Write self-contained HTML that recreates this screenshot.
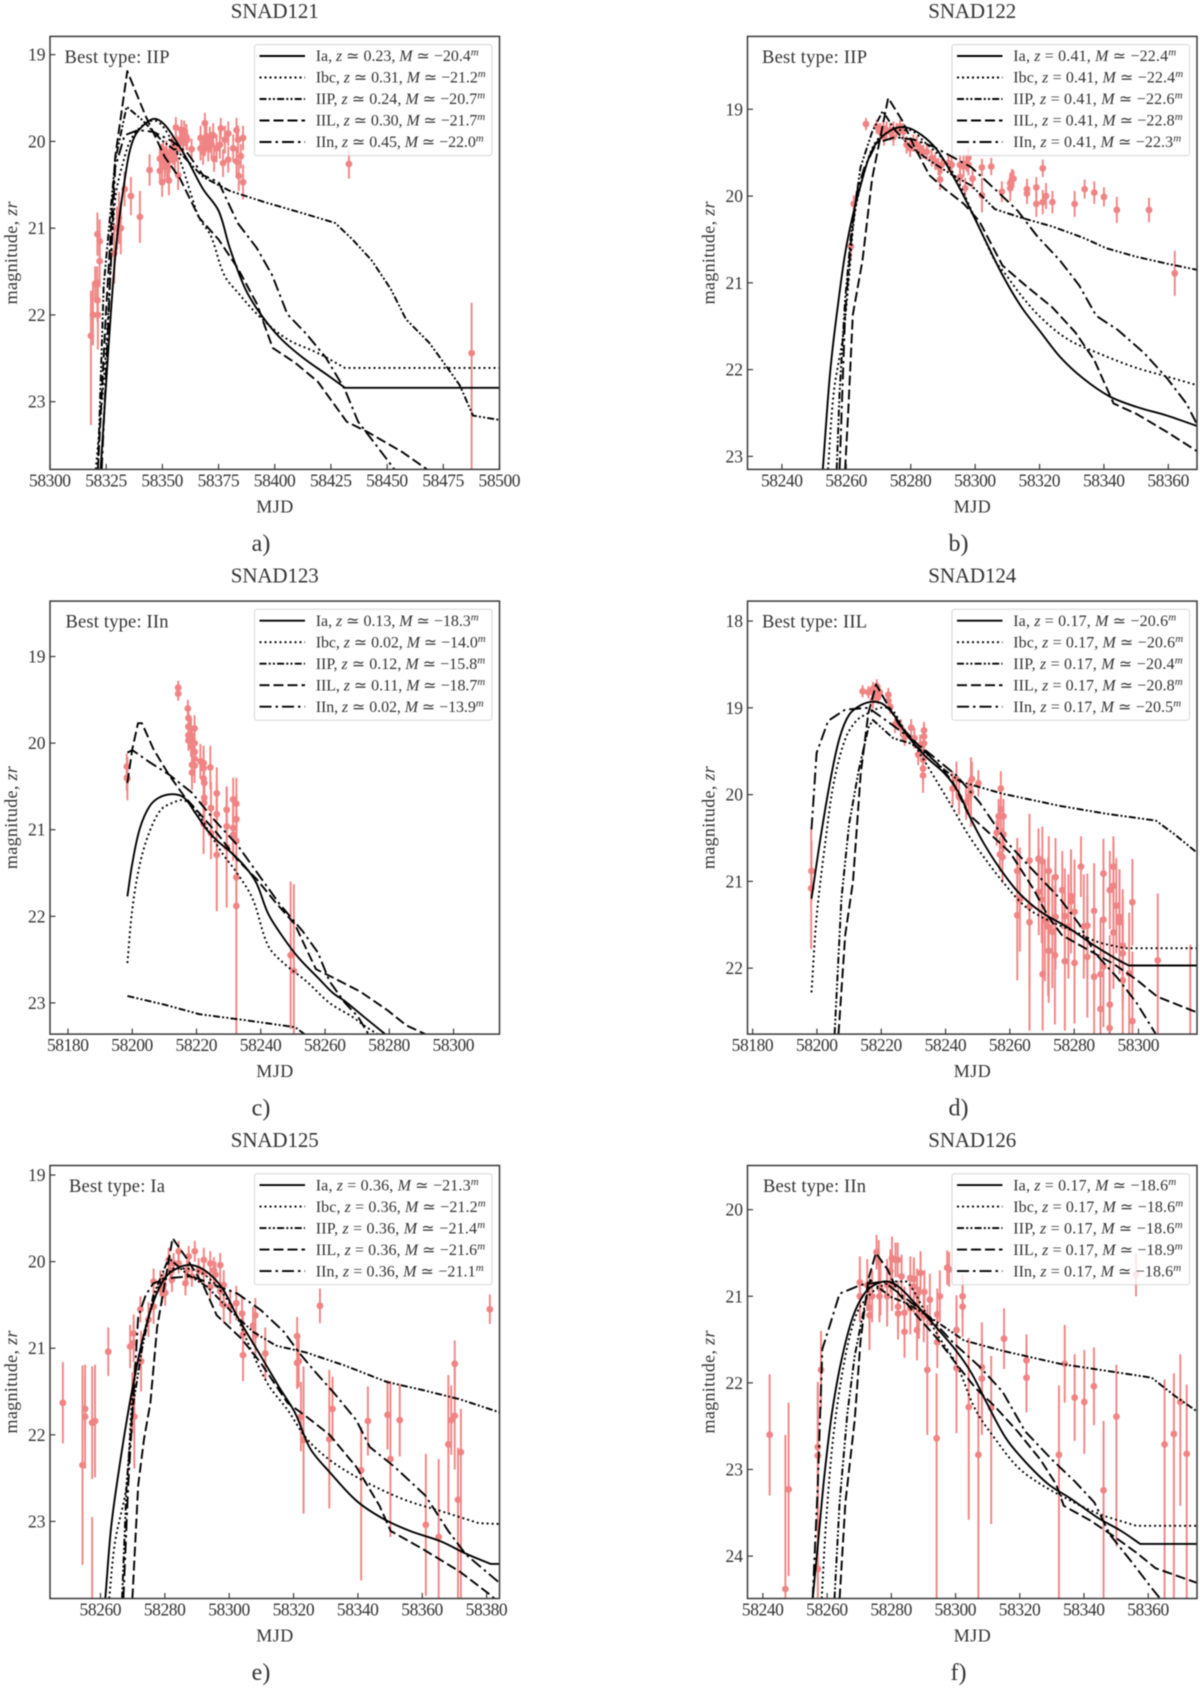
<!DOCTYPE html>
<html lang="en">
<head>
<meta charset="utf-8">
<title>SNAD light curves</title>
<style>
html,body{margin:0;padding:0;background:#fff;}
#figure{display:block;width:1200px;height:1688px;filter:blur(0.55px);}
text{font-family:"Liberation Serif","DejaVu Serif",serif;fill:#333;}
</style>
</head>
<body>
<svg id="figure" xmlns="http://www.w3.org/2000/svg" width="1200" height="1688" viewBox="0 0 1200 1688"></svg>
<script>
/* ---------- Panel a: SNAD121, days since 58300 ---------- */
const a_epoch = 58300;
const a_xTicks = [58300,58325,58350,58375,58400,58425,58450,58475,58500];
const a_yTicks = [19,20,21,22,23];
const a_xLim = [58300,58500];
const a_yLim = [18.79,23.78];
const a_Ia = [[22.5,23.78],[29,21.33],[34.1,20.3],[37.5,19.95],[42.6,19.79],[46.8,19.74],[51.1,19.81],[56.2,20],[61.3,20.22],[68.1,20.55],[75,20.8],[80,21.23],[86.9,21.7],[93.7,21.99],[102.2,22.26],[112.4,22.49],[124.4,22.71],[131.2,22.84],[200,22.84]];
const a_Ibc = [[20.4,23.78],[24.7,22.49],[29,20.67],[33.2,20.18],[36.6,19.95],[42.6,19.79],[47.7,19.77],[52.8,19.93],[57.9,20.22],[63,20.63],[66.4,20.88],[71.6,21.09],[77.5,21.54],[83.5,21.74],[93.7,22.03],[105.6,22.28],[119.2,22.44],[131.2,22.61],[200,22.61]];
const a_IIP = [[21.3,23.78],[23.9,21.66],[29,20.22],[34.1,19.6],[40.9,19.75],[49.4,19.98],[59.6,20.18],[68.1,20.41],[80,20.57],[95.4,20.7],[114.1,20.84],[126.9,20.94],[134.6,21.13],[143.1,21.37],[151.6,21.7],[158.4,22.05],[168.7,22.32],[176.3,22.59],[182.3,22.81],[188.2,23.16],[200,23.21]];
const a_IIL = [[21.3,23.78],[24.7,22.07],[29,20.18],[34.4,19.19],[42.6,19.71],[51.1,20.18],[57.9,20.43],[66.4,20.88],[75,21.13],[83.5,21.46],[92,21.87],[99.1,22.38],[109,22.55],[119.2,22.77],[132,23.23],[141.4,23.35],[156.7,23.58],[167.8,23.78]];
const a_IIn = [[23,23.78],[25.6,22.28],[29,20.3],[33.2,19.93],[39.2,19.87],[46,19.89],[54.5,20],[61.3,20.14],[68.1,20.39],[75,20.47],[83.5,20.94],[92,21.23],[98.8,21.54],[105.6,21.99],[114.1,22.22],[122.7,22.49],[131.2,22.86],[137.1,23.23],[144.8,23.49],[153.3,23.78]];
const a_points = [[18.2,22.24,0.52,1.03],[19.1,22,0.35],[20.1,21.64,0.2],[21.1,21.07,0.25],[22.1,21.15,0.25],[22.1,21.38,0.3],[21.3,22,0.4],[21,21.64,0.2],[21.1,21.83,0.25],[28.6,21.29,0.35],[29.8,21,0.25],[31.5,21,0.3],[30.7,20.88,0.3],[33.2,20.55,0.2],[36,20.63,0.22],[40,20.87,0.3],[44.3,20.33,0.18],[48.9,20.2,0.15],[49.6,20.18,0.15],[50.4,20.16,0.15],[51.1,20.21,0.15],[51.8,20.14,0.15],[48.9,20.34,0.15],[49.9,20.47,0.17],[52.9,20.45,0.17],[51.1,20.29,0.17],[52.1,20.25,0.17],[53.3,20.21,0.15],[54.1,20.1,0.15],[54.8,20.12,0.15],[55.6,20.2,0.17],[56.3,20.08,0.15],[56,19.84,0.12],[57,20.39,0.17],[57.8,19.98,0.15],[58.5,19.87,0.12],[59.7,19.88,0.12],[60.7,19.95,0.15],[59.3,20.02,0.15],[61,19.98,0.12],[63,20.09,0.12],[67,19.96,0.14],[67,20.08,0.14],[68.9,19.79,0.12],[68.9,20.02,0.15],[69.6,19.94,0.15],[70.4,20.08,0.15],[71.1,19.98,0.15],[72.6,19.93,0.14],[73,20.2,0.15],[74.1,20.08,0.16],[75.6,20.04,0.16],[76,19.85,0.12],[77,20.25,0.16],[77.8,19.98,0.16],[79.3,19.91,0.14],[79.3,20.21,0.15],[81.5,20.08,0.16],[83,20.23,0.17],[83.7,19.98,0.16],[84.9,20.17,0.14],[84,20.4,0.17],[85.9,19.96,0.14],[85.9,20.47,0.2],[83,19.87,0.14],[71.9,20.04,0.15],[68.1,20.12,0.15],[133,20.26,0.17],[187.6,22.44,0.58,1.34]];

/* ---------- Panel b: SNAD122, days since 58240 ---------- */
const b_epoch = 58240;
const b_xTicks = [58240,58260,58280,58300,58320,58340,58360];
const b_yTicks = [19,20,21,22,23];
const b_xLim = [58229.3,58368.9];
const b_yLim = [18.16,23.15];
const b_Ia = [[12.7,23.15],[14.9,22.06],[17.3,21.28],[20.2,20.54],[24.4,19.88],[28.6,19.43],[33.9,19.24],[38.7,19.21],[43.5,19.3],[48.2,19.47],[53,19.76],[57.7,20.09],[62.5,20.46],[68.5,20.91],[74.4,21.28],[80.4,21.57],[86.3,21.85],[93.5,22.1],[101.8,22.31],[110.1,22.43],[119.6,22.53],[128.9,22.65]];
const b_Ibc = [[14.3,23.15],[16.1,22.26],[19,21.61],[20.8,20.95],[22.6,20.21],[25.6,19.72],[29.2,19.37],[33.9,19.24],[39.9,19.24],[44.6,19.39],[49.4,19.55],[54.2,19.8],[58.9,20.17],[62.5,20.46],[66.1,20.74],[69.6,20.91],[74.4,21.15],[80.4,21.4],[88.7,21.65],[98.2,21.81],[110.1,21.98],[119.6,22.08],[128.9,22.18]];
const b_IIP = [[17,23.15],[17.9,22.26],[19.6,21.2],[21.4,20.46],[24.4,19.67],[28,19.26],[31.3,19.02],[35.1,19.24],[39.9,19.43],[45.8,19.59],[53,19.76],[58.9,19.88],[66.1,20.15],[74.4,20.25],[83.9,20.35],[93.5,20.48],[100.6,20.6],[110.1,20.7],[119.6,20.78],[128.9,20.85]];
const b_IIL = [[19.6,23.15],[20.6,22.47],[22,21.37],[25,20.74],[28,19.8],[33,18.87],[37.5,19.14],[41.1,19.43],[45.8,19.76],[50.6,19.92],[56.5,20.09],[61.3,20.29],[68.5,20.8],[75.6,21.03],[83.9,21.28],[91.1,21.57],[97,21.89],[103,22.39],[110.1,22.51],[119.6,22.72],[128.9,22.94]];
const b_IIn = [[17.9,23.15],[19.6,21.36],[21.4,20.54],[23.2,19.96],[25.6,19.67],[29.4,19.39],[35.1,19.32],[41.1,19.35],[47,19.43],[53,19.55],[58.9,19.67],[66.1,19.92],[73.2,20.17],[79.2,20.46],[86.3,20.74],[92.3,21.03],[97.6,21.38],[104.2,21.54],[112.5,21.81],[119.6,22.1],[125.6,22.39],[128.9,22.63]];
const b_points = [[26.1,19.17,0.07],[22.3,20.09,0.1],[21.4,20.58,0.15],[29.4,19.2,0.08],[30.5,19.26,0.1],[31.5,19.22,0.1],[32.5,19.24,0.1],[33.6,19.26,0.1],[34.6,19.24,0.1],[35.6,19.24,0.08],[36.7,19.2,0.08],[37.7,19.26,0.1],[31.7,19.32,0.1],[34.6,19.32,0.1],[38.7,19.41,0.1],[39.8,19.45,0.1],[40.8,19.39,0.1],[41.9,19.41,0.1],[42.9,19.45,0.08],[43.9,19.49,0.08],[45,19.49,0.1],[46.5,19.56,0.1],[47.6,19.6,0.1],[48.6,19.66,0.1],[49.6,19.64,0.1],[49.1,19.81,0.12],[51.7,19.62,0.1],[52.7,19.64,0.1],[55.3,19.64,0.1],[56.4,19.66,0.12],[57.4,19.62,0.1],[57.9,19.56,0.12],[57.9,19.64,0.12],[55.3,19.78,0.1],[56.9,19.91,0.12],[59.2,19.8,0.12],[62.1,19.67,0.1],[65,19.66,0.1],[62.1,19.99,0.2],[68.3,19.95,0.12],[70.9,19.91,0.15],[71.4,19.81,0.12],[71.9,19.8,0.1],[70.9,19.85,0.12],[76.1,19.92,0.12],[76.1,19.97,0.12],[79,19.9,0.12],[79,20.09,0.15],[81,19.68,0.1],[81,20.07,0.14],[82,20,0.15],[84,20.07,0.13],[90.9,20.09,0.15],[94,19.92,0.11],[97,19.96,0.13],[100,20.01,0.11],[104,20.16,0.15],[114,20.16,0.14],[122,20.89,0.26]];

/* ---------- Panel c: SNAD123, days since 58200 ---------- */
const c_epoch = 58200;
const c_xTicks = [58180,58200,58220,58240,58260,58280,58300];
const c_yTicks = [19,20,21,22,23];
const c_xLim = [58174.4,58314.3];
const c_yLim = [18.36,23.36];
const c_Ia = [[-1.5,21.77],[0,21.39],[2.4,20.98],[5.4,20.73],[8.3,20.63],[12.5,20.59],[16.1,20.63],[19.7,20.81],[23.2,21],[26.8,21.14],[30.4,21.25],[35.2,21.43],[38.7,21.62],[42.3,21.97],[47.1,22.25],[51.8,22.48],[57.8,22.71],[62.6,22.89],[66.2,22.98],[72.1,23.16],[78.7,23.36]];
const c_Ibc = [[-1.5,22.54],[0,21.92],[2.4,21.39],[5.4,21.02],[8.9,20.77],[12.5,20.69],[16.1,20.66],[19.7,20.77],[23.2,20.98],[28,21.27],[32.8,21.51],[37.5,21.8],[42.3,22.34],[47.1,22.54],[54.2,22.75],[61.4,23],[68.5,23.16],[72.1,23.26],[76.3,23.36]];
const c_IIP = [[-1.5,22.92],[10.1,23.02],[20.9,23.13],[29,23.17],[35.2,23.2],[50.7,23.28],[53.6,23.36]];
const c_IIL = [[-1.5,20.46],[0,20.07],[1.8,19.77],[3,19.77],[6.6,20.07],[11.3,20.36],[16.1,20.61],[20.9,20.81],[26.8,21.06],[32.8,21.35],[38.7,21.57],[44.6,21.84],[50.6,22.09],[54.2,22.38],[57.2,22.61],[62.6,22.71],[71,22.87],[79.3,23.08],[85.3,23.26],[91.2,23.36]];
const c_IIn = [[-1.5,20.11],[0,20.08],[5.4,20.22],[11.3,20.36],[18.5,20.57],[25.6,20.89],[32.8,21.18],[39.9,21.55],[45.9,21.86],[53,22.17],[57.8,22.42],[61.4,22.75],[66.2,23],[70.3,23.16],[73.5,23.36]];
const c_points = [[-1.7,20.27,0.15],[-1.7,20.4,0.15],[-1.5,20.41,0.25],[14.3,19.36,0.08],[14.3,19.43,0.08],[17.3,19.6,0.1],[17.5,19.71,0.12],[17.5,19.81,0.12],[17.5,19.91,0.12],[17.5,19.97,0.12],[18,19.83,0.15],[18.3,19.91,0.2],[18.3,19.96,0.2],[18.6,20.04,0.2],[19.4,19.83,0.15],[19.4,20,0.2],[19.4,20.1,0.2],[19.4,20.18,0.2],[18.6,20.25,0.2],[19.4,20.26,0.2],[18.6,20.34,0.2],[21.2,20.21,0.2],[22.2,20.23,0.2],[22.2,20.29,0.2],[22.2,20.41,0.2],[22.4,20.46,0.25],[24.3,20.28,0.25],[22.4,20.63,0.2],[22.4,20.69,0.2],[26.3,20.58,0.3],[24.5,20.75,0.3],[26.3,20.82,0.35],[22.2,20.93,0.35],[24.5,21.04,0.3],[29.4,20.77,0.25],[26.3,21.29,0.65],[29.4,20.96,0.3],[31.4,20.65,0.25],[32.4,20.7,0.3],[32.4,20.88,0.3],[31.4,20.98,0.3],[31.4,21.06,0.3],[32.4,21.13,0.35],[29.4,21.2,0.7],[32.4,21.55,0.3],[32.4,21.88,0.35,1.5],[49.3,22.45,0.85],[50.3,22.63,1]];

/* ---------- Panel d: SNAD124, days since 58200 ---------- */
const d_epoch = 58200;
const d_xTicks = [58180,58200,58220,58240,58260,58280,58300];
const d_yTicks = [18,19,20,21,22];
const d_xLim = [58178.4,58318.2];
const d_yLim = [17.77,22.76];
const d_Ia = [[-1.7,21.2],[1.1,20.5],[4.1,19.85],[7,19.35],[10,19.08],[13.6,18.97],[17.2,18.93],[20.7,18.96],[24.3,19.1],[27.9,19.31],[33.8,19.56],[39.8,19.76],[44,19.97],[47.6,20.26],[51.7,20.55],[56.5,20.83],[62.5,21.12],[69.6,21.35],[78,21.53],[86.3,21.74],[93.4,21.9],[97,21.97],[118.2,21.97]];
const d_Ibc = [[-1.7,22.28],[-0.1,21.41],[2.9,20.46],[5.3,19.85],[8.9,19.35],[12.5,19.14],[16.1,19.06],[19.7,19],[23.2,19.02],[26.8,19.23],[30.4,19.43],[35.2,19.72],[41.2,20.09],[47,20.46],[51.7,20.71],[57.7,21],[64.8,21.29],[72,21.45],[80.3,21.58],[87.5,21.7],[95.8,21.77],[118.2,21.77]];
const d_IIP = [[5.5,22.76],[7.6,21.2],[10,20.34],[13,19.72],[16,19.23],[17.4,19.14],[20.7,19.25],[23.7,19.35],[29.1,19.41],[33.8,19.52],[39.8,19.72],[44.6,19.85],[57.7,19.99],[75.6,20.13],[89.9,20.22],[105.4,20.3],[111.3,20.46],[118.2,20.67]];
const d_IIL = [[6.7,22.76],[8.8,21.62],[11.2,21],[13.6,19.76],[16,19.06],[18.4,18.73],[21.3,18.92],[25.5,19.19],[31.5,19.43],[37.4,19.64],[42.2,19.85],[47,20.22],[52.9,20.42],[60.1,20.67],[67.2,21.08],[72,21.41],[76.2,21.62],[83.9,21.78],[92.2,21.95],[99.3,22.13],[105.9,22.33],[118.2,22.51]];
const d_IIn = [[-1.7,20.4],[-0.1,19.52],[3.5,19.15],[8.8,19.02],[16,19],[23.2,19.19],[30.4,19.39],[37.5,19.6],[43.4,19.78],[50.6,20.09],[58.9,20.54],[66.1,20.83],[75.6,21.2],[81.5,21.49],[86.3,21.82],[93.4,22.11],[99.4,22.4],[105.4,22.76]];
const d_points = [[-1.7,20.88,0.35],[-1.8,21.08,0.7],[14.2,18.81,0.07],[16,18.82,0.07],[17.4,18.78,0.08],[17.9,18.85,0.08],[18.4,18.81,0.08],[19,18.88,0.08],[17.4,18.91,0.1],[18.6,18.75,0.08],[19.5,18.82,0.08],[22.2,18.85,0.08],[22.2,18.92,0.08],[22.8,18.99,0.08],[24.3,19.19,0.1],[26.1,19.23,0.1],[27.3,19.34,0.1],[29.3,19.23,0.1],[30.3,19.35,0.12],[31.5,19.54,0.12],[33.3,19.26,0.1],[33.3,19.33,0.1],[33.3,19.41,0.12],[32.1,19.43,0.12],[33,19.6,0.15],[33,19.7,0.18],[33,19.78,0.2],[42.2,19.93,0.2],[43.4,19.82,0.2],[44.2,20.03,0.2],[46.4,20.09,0.2],[47.2,20.03,0.2],[47.9,19.97,0.4],[48.2,19.82,0.2],[50.2,19.87,0.15],[55.9,20.44,0.15],[57.2,19.93,0.2],[57.2,20.17,0.2],[56.5,20.25,0.2],[58,20.25,0.2],[57.2,20.25,0.2],[58,20.46,0.2],[57.7,20.59,0.2],[56.9,20.69,0.2],[57.7,20.72,0.3],[62.3,20.88,0.38],[62.3,21.39,0.75],[63.1,21.21,0.6],[66.1,20.76,0.35],[66.1,21.29,0.95],[66.1,21.47,1.25],[68.9,20.74,0.35],[70.1,20.77,0.4],[69,21.12,0.5],[69.9,21.21,0.5],[70.2,22.07,0.65],[70.9,21.45,0.7],[72.1,20.88,0.4],[71.9,21.52,0.8],[73.2,21.58,0.65],[72.1,21.8,0.6],[74,21.85,0.8],[74.2,20.95,0.45],[74.2,21.41,0.6],[76.3,21.1,0.45],[77.1,21.4,0.55],[77.1,21.92,0.8],[78.2,21.52,0.6],[79,21.17,0.5],[79,21.23,0.6],[80.1,21.35,0.6],[80.1,21.94,0.7],[82.1,20.83,0.35],[83,21.52,0.6],[84.1,21.51,0.6],[84.1,21.87,0.7],[86.2,21.34,0.55],[86.2,22.1,0.7],[88.2,22.07,0.65],[88.2,22.47,0.7],[89.1,20.91,0.4],[89.1,21.44,0.6],[89.1,21.98,0.7],[91.1,21.1,0.45],[92.2,21.05,0.5],[92.2,20.83,0.35],[93.1,21.28,0.55],[92.2,21.59,0.65],[91.1,22.42,0.8],[91,22.69,0.7],[94.1,21.41,0.55],[94.1,21.47,0.6],[95.1,21.74,0.65],[95.1,21.83,0.65],[95.1,22.14,0.7],[97.1,22.06,0.7],[98.1,21.24,0.5],[98.1,22.61,0.8],[106,21.91,0.77,0.9],[116.1,23,1.27]];

/* ---------- Panel e: SNAD125, days since 58260 ---------- */
const e_epoch = 58260;
const e_xTicks = [58260,58280,58300,58320,58340,58360,58380];
const e_yTicks = [19,20,21,22,23];
const e_xLim = [58244.3,58384];
const e_yLim = [18.89,23.89];
const e_Ia = [[1.5,23.89],[3.3,23.07],[5.7,22.41],[9.3,21.59],[12.9,20.93],[16.4,20.47],[20,20.19],[23.6,20.08],[28.3,20.04],[33.1,20.12],[37.9,20.31],[42.6,20.64],[49.8,21.09],[55.7,21.46],[60.5,21.75],[65.2,22.16],[71.2,22.43],[79.5,22.76],[87.9,22.97],[96.2,23.11],[105.7,23.23],[114,23.38],[121.2,23.49],[124,23.49]];
const e_Ibc = [[2.7,23.89],[4.5,23.24],[8.1,22.58],[9.9,21.56],[12.3,21.02],[15.8,20.52],[18.8,20.23],[22.4,20.08],[27.1,20.08],[31.9,20.14],[36.7,20.31],[41.4,20.56],[46.2,20.97],[52.1,21.42],[58.1,21.71],[64,22.04],[71.2,22.29],[80.7,22.51],[93.8,22.74],[105.7,22.88],[117.6,23.02],[124,23.03]];
const e_IIP = [[6.7,23.89],[8.1,22.58],[9.9,21.71],[12.9,21.01],[16.4,20.39],[21.2,19.96],[27.1,20.15],[33.1,20.29],[40.2,20.56],[47.4,20.81],[54.5,20.97],[64,21.05],[75.9,21.2],[89,21.39],[99.8,21.48],[111.7,21.59],[124,21.74]];
const e_IIL = [[9.9,23.89],[11.7,22.58],[13.5,22.05],[15.5,21.63],[17.6,20.76],[22.4,19.73],[27.1,19.98],[31.9,20.27],[36.1,20.62],[43.8,20.89],[49.8,21.17],[58.1,21.63],[64,21.79],[71.2,22],[79.5,22.37],[86.7,22.82],[90.2,23.11],[99.8,23.31],[111.7,23.58],[121.2,23.85],[122.4,23.89]];
const e_IIn = [[7.1,23.89],[8.6,22.58],[9.9,21.76],[11.7,20.64],[14,20.39],[16.4,20.25],[21.2,20.19],[28.3,20.17],[35.5,20.27],[42.6,20.37],[49.8,20.56],[57,20.81],[61.7,21.05],[66.4,21.26],[72.4,21.51],[79.5,21.83],[83.7,22.14],[91.4,22.37],[100.9,22.7],[108.1,23.11],[113.5,23.38],[124,23.71]];
const e_points = [[-11.7,21.63,0.47],[2.4,21.04,0.28],[-5.6,22.35,1.15],[-4.8,21.7,0.37],[-4.8,21.79,0.6],[-2.6,21.86,0.65],[-1.7,21.84,0.65],[-2.6,24.35,1.4],[9.9,21.63,0.35],[10.5,21.79,0.6],[12.6,21.15,0.35],[9.2,20.98,0.25],[10.3,20.83,0.22],[10.3,20.94,0.22],[12.4,20.55,0.15],[16.5,20.23,0.15],[16.5,20.52,0.2],[14.9,20.67,0.2],[19.6,20.27,0.15],[20.1,20.36,0.15],[18.6,20.25,0.15],[19.1,20.33,0.15],[21.2,19.98,0.14],[21.7,20.1,0.15],[22.7,20.02,0.12],[24.3,19.88,0.12],[24.3,20.02,0.12],[22.2,20.21,0.14],[26.4,20.25,0.14],[27.4,19.94,0.12],[29.3,19.88,0.12],[26.9,20.1,0.12],[28.4,20.17,0.12],[30.5,20.1,0.14],[32.1,19.98,0.14],[32.1,20.13,0.15],[34.1,20.02,0.14],[34.1,20.29,0.15],[35.2,20.1,0.15],[35.7,20.15,0.15],[37.2,20.04,0.14],[38.3,20.27,0.17],[38.3,20.5,0.2],[37.2,20.34,0.17],[40.3,20.52,0.2],[42.2,20.48,0.2],[44,20.6,0.2],[44.3,20.84,0.22],[44.3,21.08,0.3],[47.4,20.74,0.22],[48.1,20.62,0.2],[48.1,20.85,0.25],[51.2,21.06,0.3],[61.1,20.86,0.22],[61.1,21.17,0.3],[61.6,21.15,0.3],[68.2,20.51,0.2],[62.3,21.79,0.4],[63.1,22.06,0.85],[71.1,22.05,0.8],[72.1,21.7,0.37],[81,22.41,0.5,1.27],[83.1,21.84,0.4],[89.2,21.77,0.4],[90.1,22.28,0.9],[93,21.83,0.42],[101.1,23.04,0.82],[105.1,23.18,0.9],[108.1,22.11,0.8],[109,21.83,0.4],[110.1,21.18,0.27],[110.1,21.78,0.62],[111.1,22.75,0.6,1.2],[112,22.2,0.5,1.7],[121,20.55,0.17]];

/* ---------- Panel f: SNAD126, days since 58240 ---------- */
const f_epoch = 58240;
const f_xTicks = [58240,58260,58280,58300,58320,58340,58360];
const f_yTicks = [20,21,22,23,24];
const f_xLim = [58235.2,58375.2];
const f_yLim = [19.49,24.49];
const f_Ia = [[15.5,24.49],[17.3,23.79],[19.1,23.09],[21.5,22.35],[24.5,21.73],[28,21.24],[31.6,20.97],[35.2,20.86],[38.8,20.83],[42.3,20.89],[47.1,21.07],[53.1,21.32],[60.2,21.63],[65,21.89],[69.7,22.23],[75.7,22.64],[81.7,22.91],[88.9,23.17],[96,23.34],[104.4,23.56],[111.6,23.71],[117.5,23.86],[135.2,23.86]];
const f_Ibc = [[18.3,24.49],[19.7,23.59],[22.1,22.56],[25.7,21.69],[29.2,21.2],[32.8,21],[36.4,20.89],[41.2,20.83],[44.7,20.83],[49.5,21.11],[54.3,21.44],[60.2,21.78],[66.2,22.31],[72.2,22.64],[79.3,22.97],[86.5,23.17],[94.8,23.34],[104.4,23.51],[116.3,23.65],[135.2,23.65]];
const f_IIP = [[22.3,24.49],[23.9,23.38],[26.3,22.35],[28.6,21.69],[31.6,21.12],[33.4,20.81],[36.4,20.91],[40,21.01],[44.7,21.08],[51.9,21.24],[56.7,21.36],[62.6,21.51],[74.6,21.63],[92.5,21.78],[106.8,21.86],[121.1,21.94],[128.3,22.15],[135.2,22.33]];
const f_IIL = [[23.9,24.49],[25.7,23.38],[28.6,22.43],[30.4,21.52],[32.8,20.81],[35.2,20.5],[38.8,20.69],[42.3,20.97],[47.1,21.19],[54.3,21.49],[60.2,21.78],[66.2,22.06],[72.2,22.27],[79.3,22.56],[86.5,22.89],[91.3,23.17],[93.7,23.42],[102,23.59],[109.2,23.77],[116.3,23.96],[122.3,24.14],[135.2,24.31]];
const f_IIn = [[15.5,24.49],[17.1,23.18],[18.5,21.61],[20.3,21.4],[23.9,20.97],[30.4,20.87],[37.6,20.83],[44.7,21.03],[51.9,21.24],[59.1,21.53],[67.4,21.81],[74.6,22.1],[81.7,22.56],[90.1,22.89],[97.2,23.14],[103.2,23.38],[108,23.75],[115.1,24.08],[121.1,24.37],[123.7,24.49]];
const f_points = [[2.1,22.6,0.7],[7,24.38,1.78],[8,23.23,1],[17.1,22.74,0.75],[17.1,22.84,0.8],[18.1,21.85,0.45],[17.1,24.15,0.7],[30.2,20.84,0.3],[30.2,21,0.3],[33.2,21.13,0.3],[33.2,21.22,0.4],[32.5,20.87,0.3],[35.4,20.49,0.2],[36.1,20.6,0.25],[34,21,0.3],[36.3,21,0.3],[36.6,20.92,0.3],[38.7,20.87,0.3],[39.7,20.71,0.25],[38.7,21,0.35],[40.2,20.56,0.25],[41.3,20.58,0.2],[42,20.58,0.2],[40.2,20.87,0.3],[42.1,21.12,0.3],[42.1,21.2,0.3],[44.1,21.19,0.3],[44.1,21.41,0.3],[43.2,20.77,0.25],[45.9,20.79,0.25],[47,20.8,0.25],[47,20.89,0.3],[45.9,21.14,0.3],[48,21.39,0.35],[49.1,20.73,0.25],[48,20.98,0.3],[48.6,21.19,0.3],[50.3,20.95,0.25],[52,21.04,0.3],[50.1,21.23,0.3],[51.2,21.85,0.75],[54.3,21.53,0.3],[55.1,21,0.3],[54.3,21.21,0.3],[57.4,20.67,0.2],[58,20.69,0.2],[60.3,21.39,0.4],[60.3,21.83,0.75],[62.2,21,0.25],[62.2,21.12,0.35],[68.2,21.82,0.35],[68.2,21.95,0.65],[75.1,21.49,0.35],[82.1,21.74,0.3],[82.1,21.94,0.4],[54.1,22.64,0.75,1.85],[64.1,22.28,0.8,1.3],[67.1,22.83,0.75,1.66],[71.1,22.29,0.6,1.34],[92.2,22.83,0.8,1.66],[94,21.78,0.45],[97.1,22.17,0.5,0.5],[100.1,22.22,0.6],[103.1,22.04,0.45],[106.1,23.24,0.8,1.25],[110.1,22.39,0.6,1.5],[116.2,20.75,0.25],[125.1,22.71,0.75,1.78],[128,22.59,0.7,1.9],[130,22.22,0.55,1.2],[132,22.82,0.8,1.67]];

/* ---------- Panel text ---------- */
const panelTitles = ['SNAD121','SNAD122','SNAD123','SNAD124','SNAD125','SNAD126'];
const panelCaptions = ['a)','b)','c)','d)','e)','f)'];
const bestTypes = ['IIP','IIP','IIn','IIL','Ia','IIn'];
const modelNames = ['Ia','Ibc','IIP','IIL','IIn'];
const a_redshift = ['0.23','0.31','0.24','0.30','0.45'];
const a_absMag = ['20.4','21.2','20.7','21.7','22.0'];
const b_redshift = ['0.41','0.41','0.41','0.41','0.41'];
const b_absMag = ['22.4','22.4','22.6','22.8','22.3'];
const c_redshift = ['0.13','0.02','0.12','0.11','0.02'];
const c_absMag = ['18.3','14.0','15.8','18.7','13.9'];
const d_redshift = ['0.17','0.17','0.17','0.17','0.17'];
const d_absMag = ['20.6','20.6','20.4','20.8','20.5'];
const e_redshift = ['0.36','0.36','0.36','0.36','0.36'];
const e_absMag = ['21.3','21.2','21.4','21.6','21.1'];
const f_redshift = ['0.17','0.17','0.17','0.17','0.17'];
const f_absMag = ['18.6','18.6','18.6','18.9','18.6'];

/* ---------- Layout and styling ---------- */
const NS = 'http://www.w3.org/2000/svg';
const root = document.getElementById('figure');
const PANEL_W = 449.5, PANEL_H = 433;
const INK = '#3a3a3a', POINT = '#f08484';
const dashes = {Ia:'', Ibc:'2 3', IIP:'7 2.2 2 2.2 2 2.2', IIL:'10 4', IIn:'12 4 2.5 4'};
const legendWidths = {Ia:163, Ibc:170, IIP:169.5, IIL:169.5, IIn:168};
const bestWidths = {IIP:105, IIL:105, IIn:103, Ia:96};
const smoothModels = {Ia:true, Ibc:true};

function mk(parent, tag, attrs, txt) {
  const el = document.createElementNS(NS, tag);
  for (const k in attrs) el.setAttribute(k, attrs[k]);
  if (txt !== undefined) el.textContent = txt;
  parent.appendChild(el);
  return el;
}

/* Curve through the given screen points; flat tails stay straight with a sharp corner. */
function curvePath(pts, smooth) {
  const flat = (a, b) => Math.abs(a[1] - b[1]) < 1.5;
  let d = 'M' + pts[0][0].toFixed(1) + ' ' + pts[0][1].toFixed(1);
  for (let i = 0; i < pts.length - 1; i++) {
    const p0 = pts[Math.max(i - 1, 0)], p1 = pts[i], p2 = pts[i + 1], p3 = pts[Math.min(i + 2, pts.length - 1)];
    if (!smooth || flat(p1, p2)) { d += 'L' + p2[0].toFixed(1) + ' ' + p2[1].toFixed(1); continue; }
    const seg = Math.hypot(p2[0] - p1[0], p2[1] - p1[1]) / 3;
    const t1 = [p2[0] - p0[0], p2[1] - p0[1]];
    const t2 = flat(p2, p3) ? [p2[0] - p1[0], p2[1] - p1[1]] : [p3[0] - p1[0], p3[1] - p1[1]];
    const n1 = Math.hypot(t1[0], t1[1]) || 1, n2 = Math.hypot(t2[0], t2[1]) || 1;
    d += 'C' + (p1[0] + t1[0] / n1 * seg).toFixed(1) + ' ' + (p1[1] + t1[1] / n1 * seg).toFixed(1) + ' '
      + (p2[0] - t2[0] / n2 * seg).toFixed(1) + ' ' + (p2[1] - t2[1] / n2 * seg).toFixed(1) + ' '
      + p2[0].toFixed(1) + ' ' + p2[1].toFixed(1);
  }
  return d;
}

function drawPanel(cfg) {
  const L = cfg.left, T = cfg.top;
  const xOf = t => L + (t - cfg.xLim[0]) / (cfg.xLim[1] - cfg.xLim[0]) * PANEL_W;
  const yOf = m => T + (m - cfg.yLim[0]) / (cfg.yLim[1] - cfg.yLim[0]) * PANEL_H;

  const g = mk(root, 'g', {});
  
  

  const title = mk(g, 'text', {x:L + PANEL_W/2, y:T - 18.5, 'text-anchor':'middle', 'font-size':21, textLength:88}, cfg.title);
  
  

  const clip = mk(g, 'clipPath', {id:'clip-' + cfg.key});
  mk(clip, 'rect', {x:L, y:T, width:PANEL_W, height:PANEL_H});

  const plot = mk(g, 'g', {'clip-path':'url(#clip-' + cfg.key + ')'});
  
  

  const obs = mk(plot, 'g', {});
  
  
  cfg.points.forEach(p => {
    const t = cfg.epoch + p[0], m = p[1], up = p[2], dn = p[3] === undefined ? p[2] : p[3];
    const bar = mk(obs, 'line', {x1:xOf(t), x2:xOf(t), y1:yOf(m - up), y2:yOf(m + dn), stroke:POINT, 'stroke-width':1.9});
    
    
    const dot = mk(obs, 'circle', {cx:xOf(t), cy:yOf(m), r:3.4, fill:POINT});
    
    
  });

  modelNames.forEach((name, i) => {
    const pts = cfg.series[i].map(p => [xOf(cfg.epoch + p[0]), yOf(p[1])]);
    const curve = mk(plot, 'path', {d:curvePath(pts, smoothModels[name] === true), fill:'none', stroke:'#000', 'stroke-width':1.9, 'stroke-dasharray':dashes[name], 'stroke-linejoin':'round'});
    
    
  });

  const best = mk(g, 'text', {x:L + 67, y:T + 26.5, 'text-anchor':'middle', 'font-size':18.5, textLength:bestWidths[cfg.best]}, 'Best type: ' + cfg.best);
  
  

  const lg = mk(g, 'g', {});
  
  
  const frame = mk(lg, 'rect', {x:L + 204.5, y:T + 8.2, width:237.5, height:111, rx:2.5, fill:'#fff', 'fill-opacity':0.8, stroke:'#ccc', 'stroke-opacity':0.8, 'stroke-width':1});
  
  
  modelNames.forEach((name, i) => {
    const ry = T + 19.6 + i * 21.5;
    const entry = mk(lg, 'g', {});
    
    
    const handle = mk(entry, 'line', {x1:L + 209.5, x2:L + 255, y1:ry, y2:ry, stroke:'#000', 'stroke-width':1.9, 'stroke-dasharray':dashes[name]});
    
    
    const label = mk(entry, 'text', {x:L + 265.7, y:ry + 5.2, 'font-size':16, textLength:legendWidths[name], lengthAdjust:'spacing'});
    
    
    label.appendChild(document.createTextNode(name + ', '));
    mk(label, 'tspan', {'font-style':'italic'}, 'z');
    label.appendChild(document.createTextNode(' ' + cfg.rel + ' ' + cfg.redshift[i] + ', '));
    mk(label, 'tspan', {'font-style':'italic'}, 'M');
    label.appendChild(document.createTextNode(' \u2243 \u2212' + cfg.absMag[i]));
    mk(label, 'tspan', {'font-style':'italic', 'font-size':11, dy:-5.5}, 'm');
  });

  const box = mk(g, 'rect', {x:L, y:T, width:PANEL_W, height:PANEL_H, fill:'none', stroke:INK, 'stroke-width':1.5});
  
  

  cfg.xTicks.forEach(v => {
    const x = xOf(v);
    const tick = mk(g, 'line', {x1:x, x2:x, y1:T + PANEL_H, y2:T + PANEL_H - 5.5, stroke:INK, 'stroke-width':1.2});
    
    
    const lab = mk(g, 'text', {x:x, y:T + PANEL_H + 17, 'text-anchor':'middle', 'font-size':17.5, textLength:42}, String(v));
    
    
  });
  cfg.yTicks.forEach(v => {
    const y = yOf(v);
    const tick = mk(g, 'line', {x1:L, x2:L + 5.5, y1:y, y2:y, stroke:INK, 'stroke-width':1.2});
    
    
    const lab = mk(g, 'text', {x:L - 4.5, y:y + 6, 'text-anchor':'end', 'font-size':17.5}, String(v));
    
    
  });

  const xTitle = mk(g, 'text', {x:L + PANEL_W/2, y:T + PANEL_H + 43, 'text-anchor':'middle', 'font-size':18, textLength:37}, 'MJD');
  
  

  const cy = T + PANEL_H/2;
  const yTitle = mk(g, 'text', {x:L - 33, y:cy, 'text-anchor':'middle', 'font-size':18, textLength:103, transform:'rotate(-90 ' + (L - 33) + ' ' + cy + ')'});
  
  
  yTitle.appendChild(document.createTextNode('magnitude, '));
  mk(yTitle, 'tspan', {'font-style':'italic'}, 'zr');

  const cap = mk(g, 'text', {x:L + 211, y:T + PANEL_H + 81.5, 'text-anchor':'middle', 'font-size':24, fill:'#111'}, cfg.caption);
  
  
}

drawPanel({key:'a', title:panelTitles[0], caption:panelCaptions[0], best:bestTypes[0], rel:'\u2243', left:50, top:36.4, epoch:a_epoch, xLim:a_xLim, yLim:a_yLim, xTicks:a_xTicks, yTicks:a_yTicks, series:[a_Ia,a_Ibc,a_IIP,a_IIL,a_IIn], points:a_points, redshift:a_redshift, absMag:a_absMag});
drawPanel({key:'b', title:panelTitles[1], caption:panelCaptions[1], best:bestTypes[1], rel:'=', left:747.5, top:36.4, epoch:b_epoch, xLim:b_xLim, yLim:b_yLim, xTicks:b_xTicks, yTicks:b_yTicks, series:[b_Ia,b_Ibc,b_IIP,b_IIL,b_IIn], points:b_points, redshift:b_redshift, absMag:b_absMag});
drawPanel({key:'c', title:panelTitles[2], caption:panelCaptions[2], best:bestTypes[2], rel:'\u2243', left:50, top:601.1, epoch:c_epoch, xLim:c_xLim, yLim:c_yLim, xTicks:c_xTicks, yTicks:c_yTicks, series:[c_Ia,c_Ibc,c_IIP,c_IIL,c_IIn], points:c_points, redshift:c_redshift, absMag:c_absMag});
drawPanel({key:'d', title:panelTitles[3], caption:panelCaptions[3], best:bestTypes[3], rel:'=', left:747.5, top:601.1, epoch:d_epoch, xLim:d_xLim, yLim:d_yLim, xTicks:d_xTicks, yTicks:d_yTicks, series:[d_Ia,d_Ibc,d_IIP,d_IIL,d_IIn], points:d_points, redshift:d_redshift, absMag:d_absMag});
drawPanel({key:'e', title:panelTitles[4], caption:panelCaptions[4], best:bestTypes[4], rel:'=', left:50, top:1165.5, epoch:e_epoch, xLim:e_xLim, yLim:e_yLim, xTicks:e_xTicks, yTicks:e_yTicks, series:[e_Ia,e_Ibc,e_IIP,e_IIL,e_IIn], points:e_points, redshift:e_redshift, absMag:e_absMag});
drawPanel({key:'f', title:panelTitles[5], caption:panelCaptions[5], best:bestTypes[5], rel:'=', left:747.5, top:1165.5, epoch:f_epoch, xLim:f_xLim, yLim:f_yLim, xTicks:f_xTicks, yTicks:f_yTicks, series:[f_Ia,f_Ibc,f_IIP,f_IIL,f_IIn], points:f_points, redshift:f_redshift, absMag:f_absMag});
</script>
</body>
</html>
